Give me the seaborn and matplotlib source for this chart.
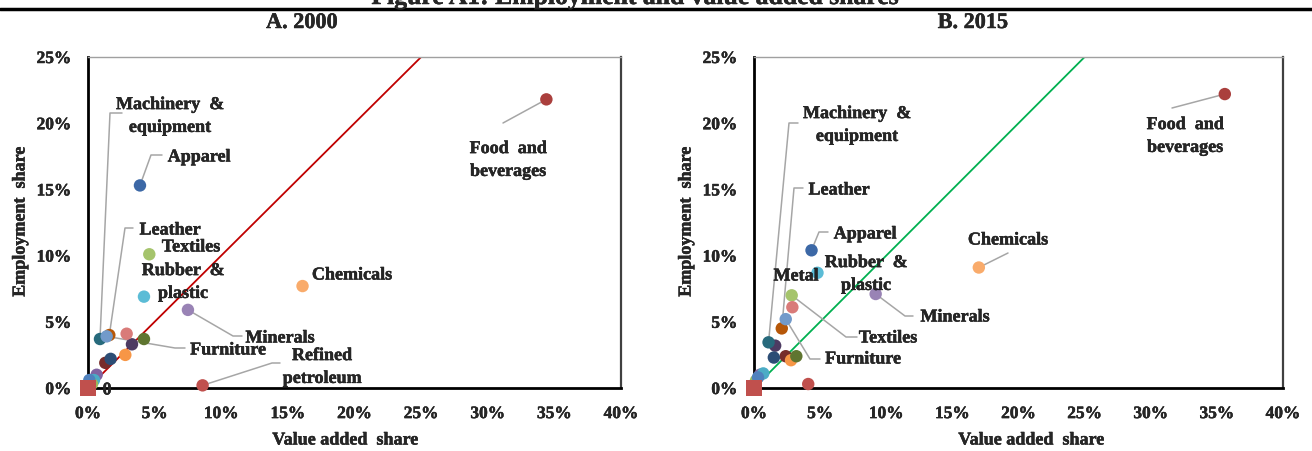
import pandas as pd
import matplotlib.pyplot as plt
import matplotlib.patheffects as pe
import seaborn as sns
from matplotlib.lines import Line2D

# sectors (only some of them are labelled in the chart)
sectors = ["Food and beverages", "Tobacco", "Textiles", "Apparel", "Leather",
           "Wood", "Paper", "Printing", "Refined petroleum", "Chemicals",
           "Rubber & plastic", "Minerals", "Basic metals", "Metal",
           "Machinery & equipment", "Electrical machinery", "Motor vehicles",
           "Other transport", "Office machinery", "Furniture"]
colors = ["#AA3F3D", "#772C2A", "#A5C46C", "#3C68A6", "#B65708",
          "#4D3B62", "#F79646", "#2C4D75", "#C0504D", "#F9AB6B",
          "#5BBCD6", "#9983B5", "#5F7530", "#D97B79",
          "#276A7C", "#8064A2", "#4BACC6",
          "#9BBB59", "#4F81BD", "#729ACA"]

# value added share / employment share (%)
va_2000 = [34.4, 1.3, 4.6, 3.9, 1.6, 3.3, 2.8, 1.7, 8.6, 16.1,
           4.2, 7.5, 4.2, 2.9, 0.9, 0.65, 0.45, 0.3, 0.1, 1.4]
emp_2000 = [21.8, 1.9, 10.1, 15.3, 4.0, 3.3, 2.5, 2.2, 0.2, 7.7,
            6.9, 5.9, 3.7, 4.1, 3.7, 1.0, 0.6, 0.3, 0.6, 3.9]
va_2015 = [35.6, 2.4, 2.85, 4.35, 2.1, 1.6, 2.8, 1.5, 4.1, 17.0,
           4.8, 9.2, 3.2, 2.9, 1.1, 0.45, 0.7, 0.15, 0.3, 2.4]
emp_2015 = [22.2, 2.4, 7.0, 10.4, 4.5, 3.2, 2.1, 2.3, 0.3, 9.1,
            8.7, 7.1, 2.4, 6.1, 3.45, 1.0, 1.1, 0.55, 0.8, 5.2]

# 45-degree reference line and origin marker
diag_x = [0, 25]
diag_y = [0, 25]
origin_x = [0]
origin_y = [0]

x_ticks = [0, 5, 10, 15, 20, 25, 30, 35, 40]
y_ticks = [0, 5, 10, 15, 20, 25]

# label layout in figure pixels (from top-left): text centre, leader elbow points
labels_2000 = {
    "Machinery & equipment": ("Machinery  &\nequipment", 170, 116, [(122, 113), (110, 113)]),
    "Apparel": ("Apparel", 199, 157, [(162, 155), (151, 155)]),
    "Leather": ("Leather", 170, 230, [(133, 228), (125, 228)]),
    "Textiles": ("Textiles", 191, 247, []),
    "Rubber & plastic": ("Rubber  &\nplastic", 183, 282, []),
    "Chemicals": ("Chemicals", 352, 275, []),
    "Minerals": ("Minerals", 280, 338, [(242, 336), (233, 336)]),
    "Furniture": ("Furniture", 228, 350, [(185, 348), (175, 348)]),
    "Refined petroleum": ("Refined\npetroleum", 322, 367, [(280, 363), (272, 363)]),
    "Food and beverages": ("Food  and\nbeverages", 508, 160, [(503, 123)]),
}
labels_2015 = {
    "Machinery & equipment": ("Machinery  &\nequipment", 857, 125, [(798, 123), (789, 123)]),
    "Leather": ("Leather", 839, 190, [(803, 188), (794, 188)]),
    "Apparel": ("Apparel", 865, 234, [(828, 232), (819, 232)]),
    "Rubber & plastic": ("Rubber  &\nplastic", 866, 274, []),
    "Metal": ("Metal", 796, 276, []),
    "Textiles": ("Textiles", 888, 338, [(857, 337), (846, 337)]),
    "Furniture": ("Furniture", 863, 359, [(820, 359), (810, 359)]),
    "Minerals": ("Minerals", 955, 317, [(913, 316), (905, 316)]),
    "Chemicals": ("Chemicals", 1008, 240, [(1008, 253)]),
    "Food and beverages": ("Food  and\nbeverages", 1185, 136, [(1172, 108)]),
}

sns.set_style("white")
plt.rcParams['font.family'] = ['Liberation Serif', 'DejaVu Serif']
plt.rcParams['font.weight'] = 'bold'

W, H = 1312, 451
fig = plt.figure(figsize=(W / 100, H / 100), dpi=100)
heavy = [pe.withStroke(linewidth=0.3, foreground="black")]


def fpos(x, y):
    return x / W, 1 - y / H


def label(x, y, s, size, **kw):
    return fig.text(*fpos(x, y), s, ha="center", va=kw.pop("va", "center"),
                    fontsize=size, fontweight="bold", path_effects=heavy, **kw)


palette = dict(zip(sectors, colors))


def draw_panel(rect, va, emp, line_color, labels):
    ax = fig.add_axes(rect)
    df = pd.DataFrame({"sector": sectors, "va": va, "emp": emp})
    sns.lineplot(x=diag_x, y=diag_y, ax=ax, color=line_color, lw=1.3, zorder=2)
    sns.scatterplot(data=df, x="va", y="emp", hue="sector", palette=palette,
                    s=80, linewidth=0, legend=False, ax=ax, clip_on=False, zorder=4)
    sns.scatterplot(x=origin_x, y=origin_y, marker="s", color="#C0504D", s=120,
                    linewidth=0, ax=ax, clip_on=False, zorder=5)
    ax.set_xlim(0, 40)
    ax.set_ylim(0, 25)
    ax.set_xticks(x_ticks)
    ax.set_xticklabels([f"{v}%" for v in x_ticks])
    ax.set_yticks(y_ticks)
    ax.set_yticklabels([f"{v}%" for v in y_ticks])
    ax.tick_params(length=0, labelsize=12.5)
    ax.tick_params(axis="x", pad=13)
    ax.tick_params(axis="y", pad=12)
    for t in ax.get_xticklabels() + ax.get_yticklabels():
        t.set_path_effects(heavy)
    ax.set_xlabel("")
    ax.set_ylabel("")
    for side in ["left", "bottom"]:
        ax.spines[side].set_linewidth(2)
        ax.spines[side].set_color("black")
    ax.spines["top"].set_linewidth(1)
    ax.spines["top"].set_color("#A0A0A0")
    ax.spines["right"].set_linewidth(1.6)
    ax.spines["right"].set_color("#404040")

    inv = ax.transData.inverted()
    for name, (txt, tx, ty, elbow) in labels.items():
        label(tx, ty, txt, 13, linespacing=1.45)
        if elbow:
            i = sectors.index(name)
            pts = [inv.transform((x, H - y)) for x, y in elbow]
            xs = [p[0] for p in pts] + [va[i]]
            ys = [p[1] for p in pts] + [emp[i]]
            ax.plot(xs, ys, color="#A6A6A6", lw=1.1, clip_on=False, zorder=3)
    return ax


ax1 = draw_panel([88 / W, 63 / H, 533 / W, 331 / H], va_2000, emp_2000, "#C00000", labels_2000)
ax2 = draw_panel([754 / W, 63 / H, 529 / W, 331 / H], va_2015, emp_2015, "#00B050", labels_2015)

# stray "0" data label near the origin of panel A
label(107, 390, "0", 13)

# titles and axis labels
label(636, 4, "Figure A1: Employment and value added shares", 18.5, va="baseline")
fig.add_artist(Line2D([0, 1], [1 - 8.5 / H, 1 - 8.5 / H], color="black", lw=2.5))
label(302, 23, "A. 2000", 16)
label(973, 23, "B. 2015", 16)
label(345, 440, "Value added  share", 13)
label(1031, 440, "Value added  share", 13)
label(20, 222, "Employment  share", 13, rotation=90)
label(686, 222, "Employment  share", 13, rotation=90)

plt.savefig("out.png", dpi=100)
plt.close()
